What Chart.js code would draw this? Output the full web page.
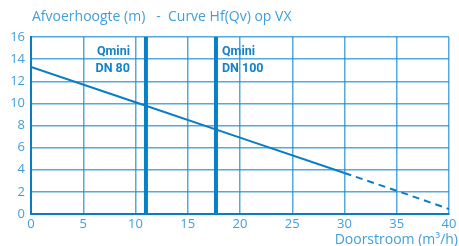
<!DOCTYPE html>
<html>
<head>
<meta charset="utf-8">
<script src="https://cdn.jsdelivr.net/npm/chart.js@4/dist/chart.umd.min.js"></script>
<style>
  html, body { margin: 0; padding: 0; background: #fff; }
  #wrap { width: 459px; height: 246px; position: relative; }
</style>
</head>
<body>
<div id="wrap"><canvas id="chart"></canvas></div>
<script>
// Pump curve, solid part then dashed extension
const flowSolid = [0, 10, 20, 30];
const headSolid = [13.3, 10.1, 6.9, 3.7];
const flowDashed = [30, 35, 40];
const headDashed = [3.7, 2.1, 0.45];

// Qmini markers
const markerNames = ["Qmini\nDN 80", "Qmini\nDN 100"];
const markerFlows = [11, 17.7];
const markerSide = ["left", "right"];

const xTicks = [0, 5, 10, 15, 20, 25, 30, 35, 40];
const yTicks = [0, 2, 4, 6, 8, 10, 12, 14, 16];

const chartTitle = "Afvoerhoogte (m)   -  Curve Hf(Qv) op VX";
const xTitle = "Doorstroom (m³/h)";

const blue = "#0a7cc4";
const textBlue = "#3f9fdb";
const gridBlue = "rgba(30, 140, 210, 0.75)";

const toPoints = (xs, ys) => xs.map((x, i) => ({ x, y: ys[i] }));

const datasets = [
  {
    data: toPoints(flowSolid, headSolid),
    borderColor: blue,
    borderWidth: 2,
    pointRadius: 0,
  },
  {
    data: toPoints(flowDashed, headDashed),
    borderColor: blue,
    borderWidth: 2,
    borderDash: [7, 5],
    pointRadius: 0,
  },
];

markerFlows.forEach((flow) => {
  datasets.push({
    data: [
      { x: flow, y: yTicks[0] },
      { x: flow, y: yTicks[yTicks.length - 1] },
    ],
    borderColor: "#0681c9",
    borderWidth: 4,
    pointRadius: 0,
  });
});

// Title, axis title and Qmini labels
const textPlugin = {
  id: "texts",
  afterDraw(chart) {
    const { ctx, chartArea, scales } = chart;
    ctx.save();
    ctx.fillStyle = textBlue;
    ctx.font = "14px 'Open Sans'";
    ctx.textBaseline = "alphabetic";
    ctx.textAlign = "left";
    ctx.fillText(chartTitle, chartArea.left + 1, 21);

    ctx.textAlign = "right";
    ctx.fillText(xTitle, chart.width - 1, 244);

    ctx.fillStyle = "#1582c8";
    ctx.font = "bold 12.5px Roboto";
    markerNames.forEach((name, i) => {
      const lineX = scales.x.getPixelForValue(markerFlows[i]);
      const left = markerSide[i] === "left";
      const x = left ? lineX - 16 : lineX + 6;
      ctx.textAlign = left ? "right" : "left";
      name.split("\n").forEach((line, j) => {
        ctx.fillText(line, x, scales.y.getPixelForValue(14) - 4 + j * 17);
      });
    });
    ctx.restore();
  },
};

new Chart(document.getElementById("chart"), {
  type: "line",
  data: { datasets },
  options: {
    responsive: true,
    maintainAspectRatio: false,
    animation: false,
    layout: { padding: { top: 37, right: 10, left: 0, bottom: 0 } },
    plugins: { legend: { display: false }, tooltip: { enabled: false } },
    scales: {
      x: {
        type: "linear",
        min: 0,
        max: 40,
        afterBuildTicks: (scale) => {
          scale.ticks = xTicks.map((value) => ({ value }));
        },
        afterFit: (scale) => {
          scale.height = 32;
        },
        grid: { color: gridBlue, lineWidth: 1.5, drawTicks: false },
        border: { color: blue, width: 2 },
        ticks: {
          color: textBlue,
          font: { family: "Open Sans", size: 13 },
          padding: 2,
          maxRotation: 0,
        },
      },
      y: {
        min: 0,
        max: 16,
        afterBuildTicks: (scale) => {
          scale.ticks = yTicks.map((value) => ({ value }));
        },
        afterFit: (scale) => {
          scale.width = 31;
        },
        grid: { color: gridBlue, lineWidth: 1.5, drawTicks: false },
        border: { color: blue, width: 2 },
        ticks: {
          color: textBlue,
          font: { family: "Open Sans", size: 13 },
          padding: 6,
        },
      },
    },
  },
  plugins: [textPlugin],
});
</script>
</body>
</html>
